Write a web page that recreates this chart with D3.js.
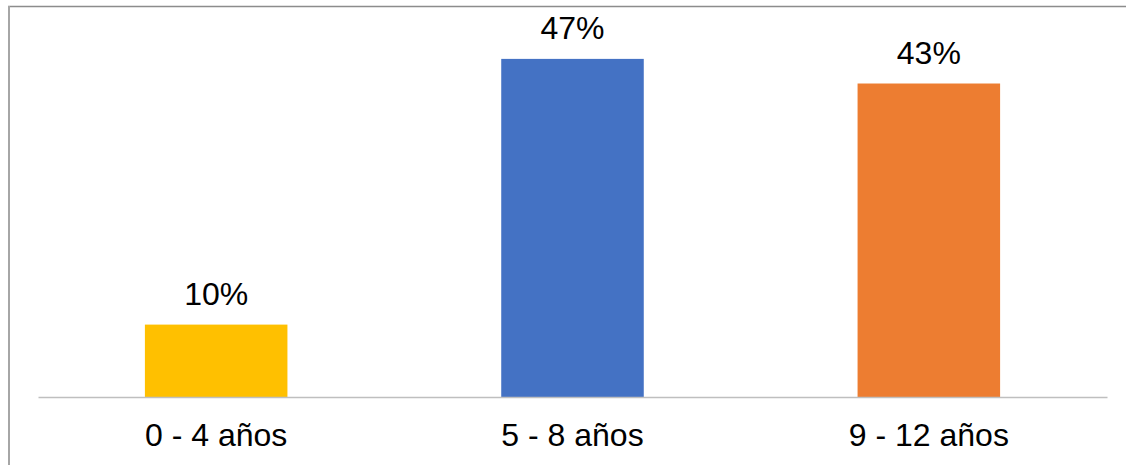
<!DOCTYPE html>
<html>
<head>
<meta charset="utf-8">
<script src="https://cdn.jsdelivr.net/npm/d3@7"></script>
<style>
  html, body { margin: 0; padding: 0; background: #fff; }
  svg { display: block; }
  text { font-family: "Liberation Sans", Arial, sans-serif; fill: #000; }
</style>
</head>
<body>
<div id="chart"></div>
<script>
const categories = ["0 - 4 años", "5 - 8 años", "9 - 12 años"];
const values = [0.10, 0.467, 0.433];
const colors = ["#FFC000", "#4472C4", "#ED7D31"];

const W = 1126, H = 465;
const m = { top: 35, right: 19, bottom: 68, left: 38 };
const innerW = W - m.left - m.right;
const innerH = H - m.top - m.bottom;

const svg = d3.select("#chart").append("svg")
  .attr("width", W).attr("height", H);

// chart frame (only top and left edges are visible in the crop)
svg.append("line")
  .attr("x1", 8).attr("x2", W).attr("y1", 6.5).attr("y2", 6.5)
  .attr("stroke", "#8c8c8c").attr("stroke-width", 1.5);
svg.append("line")
  .attr("x1", 9).attr("x2", 9).attr("y1", 6).attr("y2", H)
  .attr("stroke", "#a6a6a6").attr("stroke-width", 2);

const g = svg.append("g").attr("transform", `translate(${m.left},${m.top})`);

const x = d3.scaleBand()
  .domain(categories)
  .range([0, innerW])
  .paddingInner(0.6)
  .paddingOuter(0.3);

const y = d3.scaleLinear()
  .domain([0, 0.5])
  .range([innerH, 0]);

const fmt = d3.format(".0%");

// bars
g.selectAll("rect.bar")
  .data(values)
  .enter().append("rect")
    .attr("class", "bar")
    .attr("x", (d, i) => x(categories[i]))
    .attr("y", d => y(d))
    .attr("width", x.bandwidth())
    .attr("height", d => innerH - y(d))
    .attr("fill", (d, i) => colors[i]);

// value labels
g.selectAll("text.val")
  .data(values)
  .enter().append("text")
    .attr("class", "val")
    .attr("x", (d, i) => x(categories[i]) + x.bandwidth() / 2)
    .attr("y", d => y(d) - 19.5)
    .attr("text-anchor", "middle")
    .attr("font-size", 32)
    .text(d => fmt(d));

// x axis
const xAxis = g.append("g")
  .attr("transform", `translate(0,${innerH})`)
  .call(d3.axisBottom(x).tickSize(0).tickPadding(0).tickSizeOuter(0));
xAxis.select(".domain").attr("stroke", "#bfbfbf").attr("stroke-width", 1.3);
xAxis.selectAll(".tick text")
  .attr("font-size", 32)
  .attr("dy", null)
  .attr("y", 49)
  .attr("fill", "#000")
  .style("font-family", "'Liberation Sans', Arial, sans-serif");
</script>
</body>
</html>
